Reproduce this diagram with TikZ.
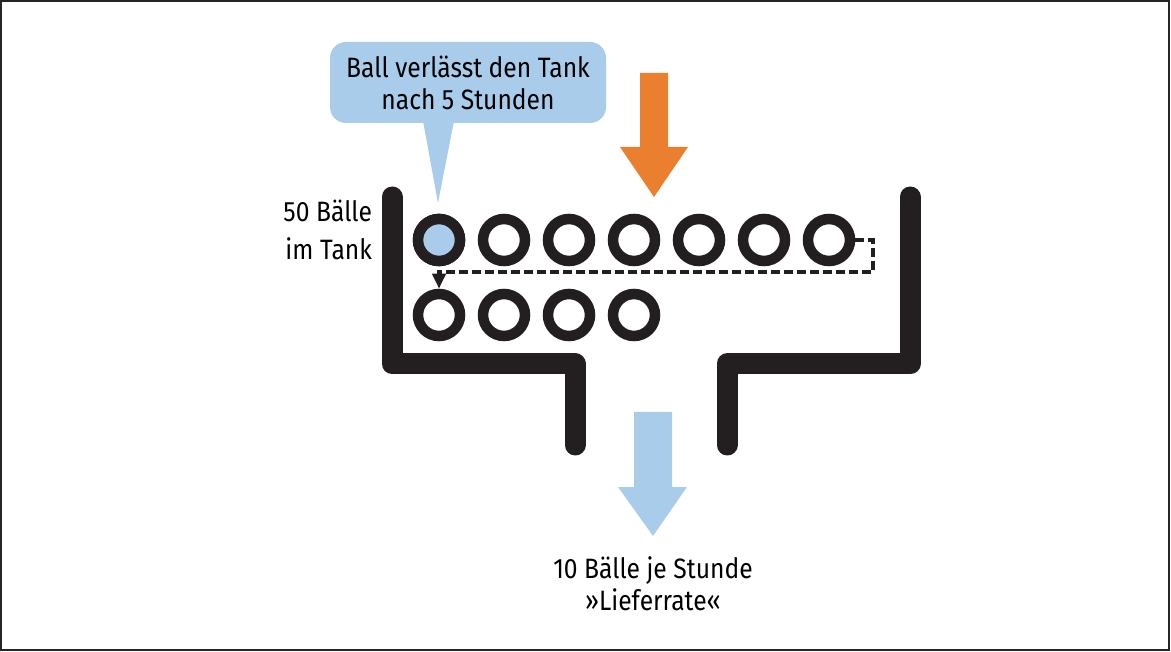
\documentclass[tikz,border=0pt]{standalone}
\usepackage{fontspec}
\setmainfont{Fira Sans}[FakeStretch=0.88]
\usetikzlibrary{arrows.meta}
\definecolor{tankblack}{HTML}{231F20}
\definecolor{ballblue}{HTML}{A9CCEB}
\definecolor{flowOrange}{HTML}{E97F2F}
\tikzset{
  ball/.style={circle, draw=tankblack, line width=10.5pt, minimum size=42pt, inner sep=0, outer sep=5.25pt},
  wall/.style={draw=tankblack, line width=21pt, line cap=round, line join=round},
  txt/.style={inner sep=0, outer sep=0, align=center, text=black, font=\fontsize{28}{32}\selectfont}
}
\begin{document}
\begin{tikzpicture}[x=1pt, y=-1pt]
        \useasboundingbox (0,0) rectangle (1171,652);
        \draw[black!85, line width=1.5pt] (1,1) rectangle (1169,650);
        \draw[wall] (392,197) -- (392,364) -- (575,364) -- (575,445);
        \draw[wall] (727,445) -- (727,364) -- (910,364) -- (910,197);
        \foreach \i in {1,...,7} {
          \node[ball] (a\i) at ({439+65*(\i-1)},240) {};
        }
        \foreach \i in {1,...,4} {
          \node[ball] (b\i) at ({439+65*(\i-1)},315) {};
        }
        \node[ball, fill=ballblue] at (a1) {};
        \coordinate (turnA) at (873,240);
        \coordinate (turnB) at (873,272);
        \coordinate (turnC) at (439,272);
        \draw[tankblack, line width=4pt, dash pattern=on 9pt off 4pt, -{Triangle[length=15pt, width=13pt]}] (a7.east) -- (turnA) -- (turnB) -- (turnC) -- (b1.north);
        \node[txt, anchor=east, font=\fontsize{28}{38}\selectfont] (intank) at (372,230) {\hfill 50 Bälle\\\hfill im Tank};
        \node[txt, fill=ballblue, rounded corners=16pt, minimum width=276pt, minimum height=81pt] (bubble) at (468,82.5) {Ball verlässt den Tank\\nach 5 Stunden};
        \coordinate (tip) at (438,203);
        \fill[ballblue] ([xshift=-45pt, yshift=2pt]bubble.south) -- (tip) -- ([xshift=-14pt, yshift=2pt]bubble.south) -- cycle;
        \fill[flowOrange] (640,73) -- (668,73) -- (668,147) -- (688,147) -- (654,197) -- (620,147) -- (640,147) -- cycle;
        \fill[ballblue] (634,412) -- (672,412) -- (672,487) -- (687,487) -- (653,536) -- (618,487) -- (634,487) -- cycle;
        \node[txt] (rate) at (653,584) {10 Bälle je Stunde\\»Lieferrate«};
      \end{tikzpicture}
\end{document}
